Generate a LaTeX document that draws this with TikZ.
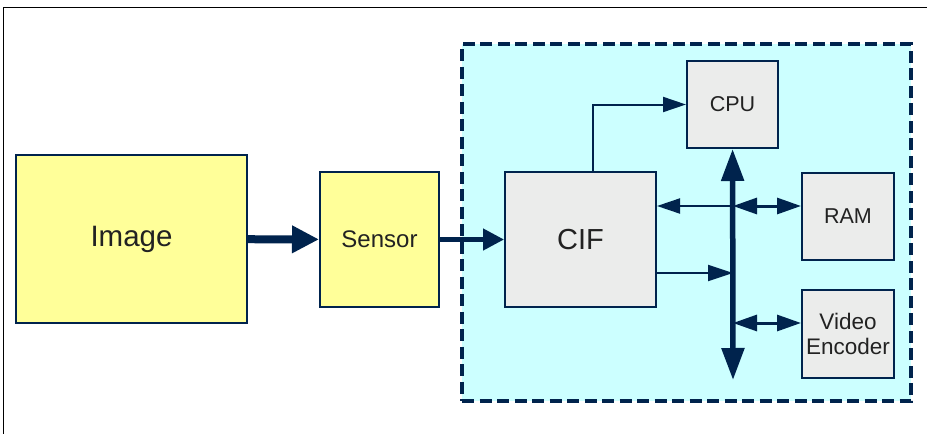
\documentclass[tikz,border=0pt]{standalone}
\usepackage{fontspec}
\setmainfont{Liberation Sans}
\usepackage{tikz}
\usetikzlibrary{arrows.meta,calc,positioning}
\definecolor{busnavy}{HTML}{00234D}
\definecolor{chipcyan}{HTML}{CCFFFF}
\definecolor{srcyellow}{HTML}{FFFF99}
\definecolor{blockgray}{HTML}{EBECEB}
\definecolor{labelgray}{HTML}{222222}

\begin{document}
\begin{tikzpicture}[x=1pt,y=-1pt,
    block/.style={draw=busnavy,line width=2pt,fill=blockgray,text=labelgray,inner sep=0pt,align=center},
    srcblock/.style={block,fill=srcyellow},
    chip/.style={draw=busnavy,line width=3.3pt,fill=chipcyan,dash pattern=on 12pt off 5.5pt,inner sep=0pt},
    link/.style={busnavy,line width=2pt,-{Triangle[length=23pt,width=15pt]}},
    duplex/.style={busnavy,line width=3pt,{Triangle[length=24pt,width=16pt]}-{Triangle[length=24pt,width=16pt]}}]
  \useasboundingbox (0,0) rectangle (927,434);
  \draw[line width=1pt] (927,7) -- (3,7) -- (3,434);
  \node[chip,minimum width=449pt,minimum height=357pt] (soc) at (686.5,222.5) {};
  % camera side
  \node[srcblock,minimum width=231pt,minimum height=168pt,font=\fontsize{29.5}{35}\selectfont] (image) at (131.5,239) {Image};
  \node[srcblock,minimum width=119pt,minimum height=135pt,font=\fontsize{24}{29}\selectfont] (sensor) at (379.5,239.5) {Sensor};
  % chip blocks
  \node[block,minimum width=151pt,minimum height=135pt,font=\fontsize{29}{35}\selectfont] (cif) at (580.5,239.5) {CIF};
  \node[block,minimum width=91pt,minimum height=87pt,font=\fontsize{21.5}{26}\selectfont] (cpu) at (732.5,104.5) {CPU};
  \node[block,minimum width=92pt,minimum height=87pt,font=\fontsize{21.5}{26}\selectfont] (ram) at (848,216.5) {RAM};
  \node[block,minimum width=92pt,minimum height=88pt,font=\fontsize{22.5}{24.5}\selectfont] (venc) at (848,334) {Video\\Encoder};
  \coordinate (busend) at (733,380);
  \coordinate (tapram) at (733,206);
  \coordinate (tapcif) at (733,273);
  \coordinate (tapvid) at (733,323);

  \draw[busnavy,line width=8pt,-{Triangle[length=27pt,width=26pt]}] (image) -- (sensor);
  \draw[busnavy,line width=4.5pt,-{Triangle[length=21pt,width=21pt]}] (sensor) -- (cif);
  \draw[busnavy,line width=5.5pt,{Triangle[length=32pt,width=22pt]}-{Triangle[length=32pt,width=22pt]}] (cpu) -- (busend);
  \draw[link] ([xshift=12.5pt]cif.north) |- (cpu);
  \draw[link] (tapram) -- (tapram -| cif.east);
  \draw[duplex] (tapram) -- (tapram -| ram.west);
  \draw[link,-{Triangle[length=25pt,width=16pt]}] (tapcif -| cif.east) -- (tapcif);
  \draw[duplex] (tapvid) -- (tapvid -| venc.west);
\end{tikzpicture}
\end{document}
